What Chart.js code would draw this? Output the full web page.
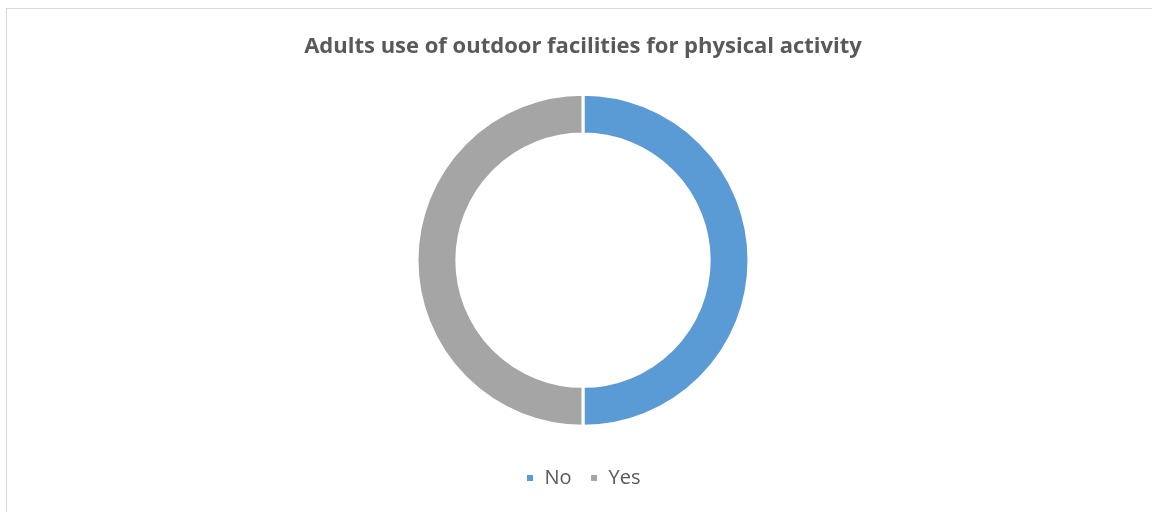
<!DOCTYPE html>
<html>
<head>
<meta charset="utf-8">
<script src="https://cdn.jsdelivr.net/npm/chart.js@4/dist/chart.umd.min.js"></script>
<style>
  html, body { margin: 0; padding: 0; background: #fff; overflow: hidden; }
  #frame { position: absolute; left: 6px; top: 8px; width: 1160px; height: 520px; border: 1px solid #d9d9d9; box-sizing: border-box; }
  #chartArea { position: absolute; left: 0; top: 0; width: 1152px; height: 512px; }
</style>
</head>
<body>
<div id="frame"></div>
<div id="chartArea"><canvas id="myChart"></canvas></div>
<script>
const categories = ["No", "Yes"];
const values = [50, 50];
const colors = ["#5B9BD5", "#A5A5A5"];
const titleText = "Adults use of outdoor facilities for physical activity";

const ctx = document.getElementById("myChart").getContext("2d");
const myChart = new Chart(ctx, {
  type: "doughnut",
  data: {
    labels: categories,
    datasets: [
      {
        data: values,
        backgroundColor: colors,
        borderColor: "#ffffff",
        borderWidth: 3,
        hoverOffset: 0,
      },
    ],
  },
  options: {
    responsive: true,
    maintainAspectRatio: false,
    animation: false,
    cutout: "76%",
    radius: 166,
    layout: {
      padding: { left: 14, top: 0, bottom: 14 },
    },
    plugins: {
      title: {
        display: true,
        text: titleText,
        color: "#595959",
        font: { family: "'Open Sans', sans-serif", size: 22, weight: "bold" },
        padding: { top: 34, bottom: 10 },
      },
      legend: {
        position: "bottom",
        labels: {
          color: "#595959",
          font: { family: "'Open Sans', sans-serif", size: 20 },
          boxWidth: 9,
          boxHeight: 9,
          padding: 18,
        },
      },
      tooltip: { enabled: false },
    },
  },
});
</script>
</body>
</html>
